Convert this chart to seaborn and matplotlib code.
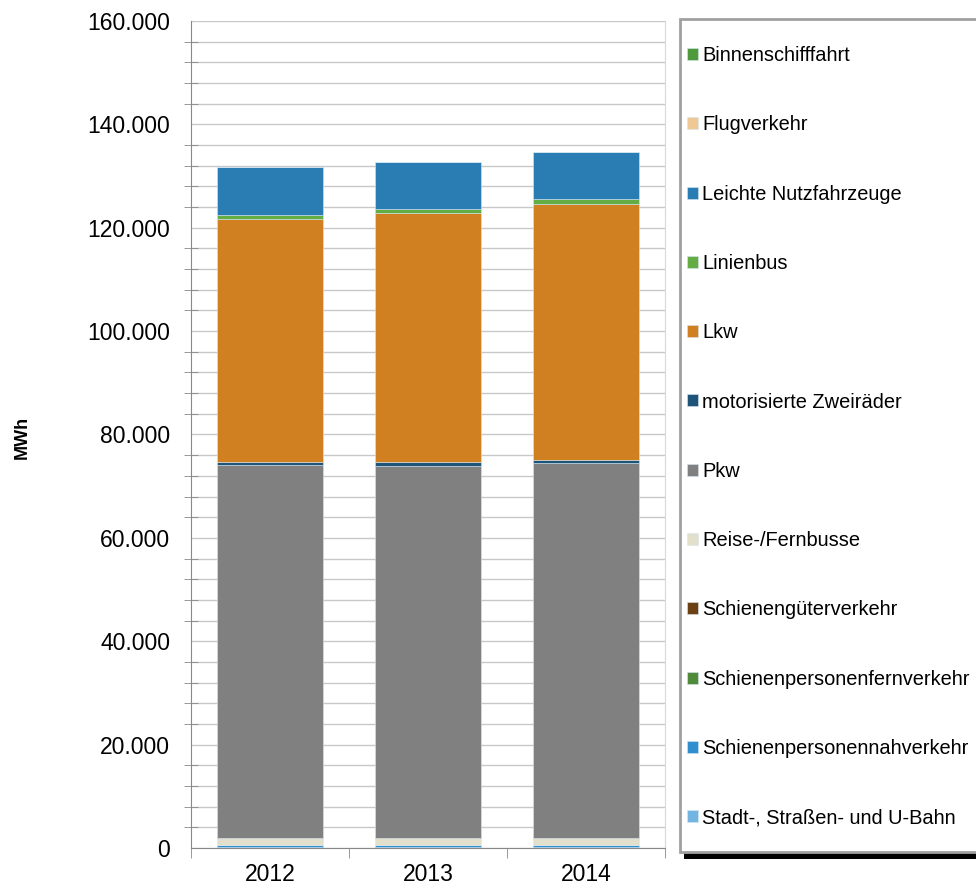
import matplotlib
matplotlib.use("Agg")
import matplotlib.pyplot as plt
from matplotlib.patches import Rectangle
from matplotlib.ticker import FuncFormatter, MultipleLocator, FixedLocator
import numpy as np
import pandas as pd
import seaborn as sns

# years on the x axis
years = ["2012", "2013", "2014"]

# stacked segments, bottom to top (MWh)
stadt_bahn = [150, 150, 150]
spnv = [450, 450, 450]
spfv = [0, 0, 0]
gueterverkehr = [0, 0, 0]
reisebusse = [1400, 1400, 1400]
pkw = [72100, 71900, 72400]
zweiraeder = [600, 700, 650]
lkw = [46900, 48200, 49550]
linienbus = [950, 800, 950]
lnf = [9150, 9200, 9200]
flugverkehr = [0, 0, 0]
binnenschiff = [0, 0, 0]

series = [
    ("Stadt-, Straßen- und U-Bahn", stadt_bahn, "#74b4e0"),
    ("Schienenpersonennahverkehr", spnv, "#2f8fce"),
    ("Schienenpersonenfernverkehr", spfv, "#4f8b3b"),
    ("Schienengüterverkehr", gueterverkehr, "#6b4012"),
    ("Reise-/Fernbusse", reisebusse, "#e2dfcb"),
    ("Pkw", pkw, "#808080"),
    ("motorisierte Zweiräder", zweiraeder, "#1f5479"),
    ("Lkw", lkw, "#d08021"),
    ("Linienbus", linienbus, "#64ad44"),
    ("Leichte Nutzfahrzeuge", lnf, "#2a7db2"),
    ("Flugverkehr", flugverkehr, "#f0c893"),
    ("Binnenschifffahrt", binnenschiff, "#4e9a3c"),
]

sns.set_style("white")
plt.rcParams["font.family"] = ["Liberation Sans", "DejaVu Sans"]
plt.rcParams["text.color"] = "black"
plt.rcParams["xtick.color"] = "black"
plt.rcParams["ytick.color"] = "black"

W, H = 976, 891
fig = plt.figure(figsize=(W / 100, H / 100), dpi=100)
ax = fig.add_axes([191 / W, 1 - 848 / H, 474 / W, 827 / H])

bottom = np.zeros(len(years))
for name, vals, color in series:
    df = pd.DataFrame({"year": years, "value": vals})
    sns.barplot(data=df, x="year", y="value", color=color, bottom=bottom,
                width=0.665, ax=ax, edgecolor="#d6e6f2", linewidth=0.4,
                saturation=1, label=name)
    bottom = bottom + np.array(vals)

handles, labels = ax.get_legend_handles_labels()
if ax.get_legend() is not None:
    ax.get_legend().remove()

ax.set_ylim(0, 160000)
ax.set_xlim(-0.5, 2.5)
ax.yaxis.set_major_locator(MultipleLocator(20000))
ax.yaxis.set_minor_locator(MultipleLocator(4000))
ax.yaxis.set_major_formatter(FuncFormatter(lambda v, p: f"{int(v):,}".replace(",", ".")))
ax.grid(which="both", axis="y", color="#c8c8c8", linewidth=1.0)
ax.set_axisbelow(True)

ax.set_xlabel("")
ax.set_ylabel("")
ax.spines["top"].set_visible(False)
ax.spines["right"].set_color("#d8d8d8")
ax.spines["left"].set_color("#888888")
ax.spines["bottom"].set_color("#888888")

ax.tick_params(axis="y", which="major", direction="out", length=7, color="#888888",
               labelsize=16.5, labelcolor="black", pad=8)
ax.tick_params(axis="y", which="minor", direction="inout", length=10, color="#888888", left=True)
ax.xaxis.set_minor_locator(FixedLocator([-0.5, 0.5, 1.5, 2.5]))
ax.tick_params(axis="x", which="major", length=0, labelsize=16.5, labelcolor="black", pad=11)
ax.tick_params(axis="x", which="minor", direction="out", length=7, color="#888888", bottom=True)

fig.text(22 / W, 1 - 437 / H, "MWh", rotation=90, fontsize=13, fontweight="bold",
         ha="center", va="center", color="black")

# legend box with black drop shadow
fig.patches.append(Rectangle((684 / W, 1 - 859 / H), 320 / W, 830 / H,
                             transform=fig.transFigure, facecolor="black",
                             edgecolor="none", zorder=1))
fig.patches.append(Rectangle((680 / W, 1 - 852 / H), 320 / W, 833 / H,
                             transform=fig.transFigure, facecolor="white",
                             edgecolor="#a0a0a0", linewidth=2, zorder=2))

leg = fig.legend(handles[::-1], labels[::-1], loc="upper left",
                 bbox_to_anchor=(687 / W, 1 - 46 / H), fontsize=14.4,
                 handlelength=0.55, handleheight=0.55, handletextpad=0.2,
                 labelspacing=2.515, borderpad=0, borderaxespad=0,
                 frameon=False, labelcolor="black")
leg.set_zorder(3)

fig.savefig("out.png", dpi=100)
